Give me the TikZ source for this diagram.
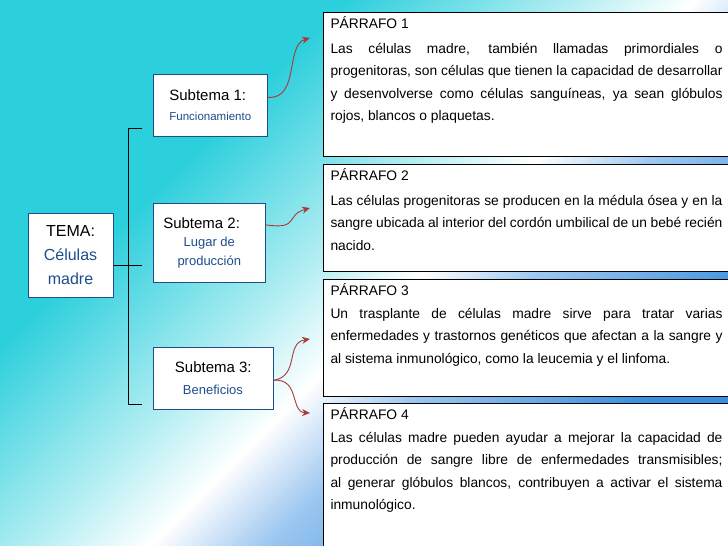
\documentclass[tikz,border=0pt]{standalone}
\usepackage{fontspec}
\setmainfont{Liberation Sans}
\usetikzlibrary{arrows.meta}
\definecolor{cy}{HTML}{2CCFDC}
\definecolor{bl}{HTML}{3A8FE0}
\definecolor{tb}{HTML}{1F4E8A}
\definecolor{ar}{HTML}{A83A3A}
\pgfdeclareverticalshading{bgsh}{100bp}{color(0bp)=(bl); color(36bp)=(bl); color(44bp)=(bl!50!white); color(48bp)=(white); color(52bp)=(cy!35!white); color(60bp)=(cy); color(100bp)=(cy)}
\hyphenpenalty=10000 \exhyphenpenalty=10000
\newcommand{\ptext}[2]{\parbox[t][#1][t]{392pt}{\fontsize{13.8}{22.6}\selectfont\rightskip=0pt #2}}
\begin{document}
\begin{tikzpicture}[x=1pt,y=-1pt,
 sub/.style={draw=tb,fill=white,line width=0.6pt,rectangle},
 par/.style={draw=black,fill=white,line width=1pt,anchor=north west,inner xsep=7pt,inner ysep=4pt},
 arr/.style={draw=ar,line width=0.9pt,-{Stealth[length=8pt,width=7pt]}},
 br/.style={draw=black,line width=0.6pt}]
\useasboundingbox (0,0) rectangle (728,546);
\shade[shading=bgsh,shading angle=45] (-200,-200) rectangle (928,746);
\useasboundingbox (0,0) rectangle (728,546);
% bracket
\coordinate (bt) at (128,128);
\coordinate (bb) at (128,404);
\draw[br] (142,128) -- (bt) -- (bb) -- (142,404);
\draw[br] (113,265) -- (128,265);
\draw[br] (128,265) -- (142,265);
\node[sub,minimum width=85pt,minimum height=84pt,align=center,font=\fontsize{16}{24}\selectfont] (tema) at (70.5,255) {TEMA:\\\textcolor{tb}{Células}\\\textcolor{tb}{madre}};
\node[sub,minimum width=114pt,minimum height=62pt,anchor=north west,align=left,font=\fontsize{15}{17}\selectfont] (s1) at (153,74) {Subtema 1:\\[3pt]{\color{tb}\fontsize{11.5}{13}\selectfont Funcionamiento}};
\node[sub,minimum width=112pt,minimum height=79pt,anchor=north west,align=left,font=\fontsize{15}{17}\selectfont] (s2) at (153,203) {Subtema 2:\\[8pt]\parbox{92pt}{\centering\color{tb}\fontsize{13}{19}\selectfont Lugar de\\producción}};
\node[sub,minimum width=120pt,minimum height=62pt,anchor=north west,align=left,font=\fontsize{15}{17}\selectfont] (s3) at (153,347) {Subtema 3:\\[5pt]\hspace*{8pt}{\color{tb}\fontsize{13}{15}\selectfont Beneficios}};
\node[par] (p1) at (323,12) {\ptext{136pt}{PÁRRAFO 1\\[2pt] Las células madre, también llamadas primordiales o progenitoras, son células que tienen la capacidad de desarrollar y desenvolverse como células sanguíneas, ya sean glóbulos rojos, blancos o plaquetas.}};
\node[par] (p2) at (323,164) {\ptext{99pt}{PÁRRAFO 2\\[2pt] Las células progenitoras se producen en la médula ósea y en la sangre ubicada al interior del cordón umbilical de un bebé recién nacido.}};
\node[par] (p3) at (323,279) {\ptext{109pt}{PÁRRAFO 3\\ Un trasplante de células madre sirve para tratar varias enfermedades y trastornos genéticos que afectan a la sangre y al sistema inmunológico, como la leucemia y el linfoma.}};
\node[par] (p4) at (323,403) {\ptext{150pt}{PÁRRAFO 4\\ Las células madre pueden ayudar a mejorar la capacidad de producción de sangre libre de enfermedades transmisibles; al generar glóbulos blancos, contribuyen a activar el sistema inmunológico.}};
\draw[arr] (s1.east) ++(0,-8) coordinate (a1) .. controls (300,100) and (285,45) .. (310,38);
\draw[arr] (s2.east) ++(0,-18) coordinate (a2) .. controls (300,230) and (285,215) .. (310,208);
\draw[arr] (s3.east) ++(0,2) coordinate (a3) .. controls (300,376) and (285,343) .. (310,339);
\draw[arr] (a3) .. controls (300,378) and (290,412) .. (310,413);
\end{tikzpicture}
\end{document}
